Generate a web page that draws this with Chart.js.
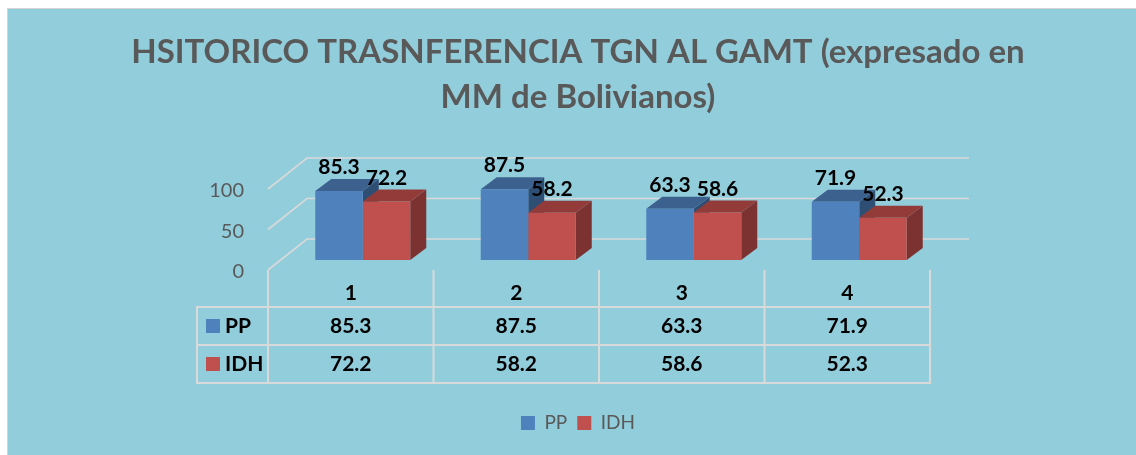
<!DOCTYPE html>
<html><head><meta charset="utf-8">
<script src="https://cdn.jsdelivr.net/npm/chart.js@4.4.1/dist/chart.umd.min.js"></script>
<style>
html,body{margin:0;padding:0;background:#fff;overflow:hidden;width:1136px;height:455px;}
#wrap{position:absolute;left:7px;top:8px;width:1129px;height:447px;border-left:1px solid #d4d4d4;border-top:1px solid #d4d4d4;background:#92CDDC;overflow:hidden;}
canvas{display:block;}
</style></head><body>
<div id="wrap"><canvas id="c" width="1140" height="446"></canvas></div>
<script>
// ---- data ----
const titleLines = ['HSITORICO TRASNFERENCIA TGN AL GAMT (expresado en', 'MM de Bolivianos)'];
const categories = ['1', '2', '3', '4'];
const seriesNames = ['PP', 'IDH'];
const ppValues = [85.3, 87.5, 63.3, 71.9];
const idhValues = [72.2, 58.2, 58.6, 52.3];
const yTickValues = [0, 50, 100];

// ---- style ----
const COLORS = {
  pp:  {front: '#4F81BD', top: '#3C618E', side: '#2F4E74'},
  idh: {front: '#C0504D', top: '#933B39', side: '#7C3230'},
  grid: '#D9D9D9', text: '#595959'
};
const FONT = 'Lato';
const DEPTH = {dx: 16, dy: -12};
const FRONT_OFF = {dx: -12, dy: 10};
const BACK_OFF = {dx: 27, dy: -21};

function poly(ctx, pts) {
  ctx.beginPath();
  ctx.moveTo(pts[0][0], pts[0][1]);
  for (let i = 1; i < pts.length; i++) ctx.lineTo(pts[i][0], pts[i][1]);
  ctx.closePath();
  ctx.fill();
}
function line(ctx, x1, y1, x2, y2) {
  ctx.beginPath(); ctx.moveTo(x1, y1); ctx.lineTo(x2, y2); ctx.stroke();
}

const threeD = {
  id: 'threeD',
  beforeDatasetsDraw(chart) {
    const {ctx, chartArea: a, scales: {y}} = chart;
    ctx.save();
    ctx.strokeStyle = COLORS.grid; ctx.lineWidth = 1.6;
    y.ticks.forEach(t => {
      const py = y.getPixelForValue(t.value);
      ctx.beginPath();
      ctx.moveTo(a.left + FRONT_OFF.dx, py + FRONT_OFF.dy);
      ctx.lineTo(a.left + BACK_OFF.dx, py + BACK_OFF.dy);
      ctx.lineTo(a.right + BACK_OFF.dx, py + BACK_OFF.dy);
      ctx.stroke();
    });
    for (let i = 0; i < categories.length; i++) {
      chart.data.datasets.forEach((ds, di) => {
        const bar = chart.getDatasetMeta(di).data[i];
        const p = bar.getProps(['x', 'y', 'base', 'width'], true);
        const L = p.x - p.width / 2, R = p.x + p.width / 2;
        ctx.fillStyle = ds.sideColor;
        poly(ctx, [[R, p.y], [R + DEPTH.dx, p.y + DEPTH.dy], [R + DEPTH.dx, p.base + DEPTH.dy], [R, p.base]]);
        ctx.fillStyle = ds.topColor;
        poly(ctx, [[L, p.y], [R, p.y], [R + DEPTH.dx, p.y + DEPTH.dy], [L + DEPTH.dx, p.y + DEPTH.dy]]);
      });
    }
    ctx.restore();
  },
  afterDatasetsDraw(chart) {
    const {ctx} = chart;
    ctx.save();
    ctx.fillStyle = '#000';
    ctx.font = 'bold 21px ' + FONT;
    ctx.textAlign = 'center';
    ctx.textBaseline = 'alphabetic';
    chart.data.datasets.forEach((ds, di) => {
      chart.getDatasetMeta(di).data.forEach((bar, i) => {
        const p = bar.getProps(['x', 'y'], true);
        ctx.fillText(ds.data[i].toFixed(1), p.x, p.y - 17);
      });
    });
    ctx.restore();
  },
  afterDraw(chart) {
    const {ctx, chartArea: a, scales: {x}} = chart;
    const n = categories.length;
    const cw = (a.right - a.left) / n;
    const fl = a.left + FRONT_OFF.dx, fb = a.bottom + FRONT_OFF.dy;
    const rows = [a.bottom + 47, a.bottom + 85, a.bottom + 123];
    const headLeft = fl - 71;
    ctx.save();
    ctx.strokeStyle = COLORS.grid; ctx.lineWidth = 2;
    for (let i = 0; i <= n; i++) { const px = fl + i * cw; line(ctx, px, fb, px, rows[2]); }
    line(ctx, headLeft, rows[0], headLeft, rows[2]);
    rows.forEach(ry => line(ctx, headLeft - 1, ry, fl + n * cw + 1, ry));
    const series = [
      {name: seriesNames[0], values: ppValues, color: COLORS.pp.front},
      {name: seriesNames[1], values: idhValues, color: COLORS.idh.front}
    ];
    ctx.font = 'bold 21px ' + FONT;
    ctx.textBaseline = 'middle';
    series.forEach((s, r) => {
      const cy = (rows[r] + rows[r + 1]) / 2;
      ctx.fillStyle = s.color;
      ctx.fillRect(headLeft + 9, cy - 7, 14, 14);
      ctx.fillStyle = '#000';
      ctx.textAlign = 'left';
      ctx.fillText(s.name, headLeft + 28, cy);
      ctx.textAlign = 'center';
      s.values.forEach((v, i) => ctx.fillText(v.toFixed(1), x.getPixelForValue(i) + FRONT_OFF.dx, cy));
    });
    ctx.restore();
  }
};

new Chart(document.getElementById('c'), {
  type: 'bar',
  plugins: [threeD],
  data: {
    labels: categories,
    datasets: [
      {label: seriesNames[0], data: ppValues, backgroundColor: COLORS.pp.front, topColor: COLORS.pp.top, sideColor: COLORS.pp.side, borderWidth: 0},
      {label: seriesNames[1], data: idhValues, backgroundColor: COLORS.idh.front, topColor: COLORS.idh.top, sideColor: COLORS.idh.side, borderWidth: 0}
    ]
  },
  options: {
    responsive: false,
    animation: false,
    events: [],
    categoryPercentage: 0.574,
    barPercentage: 1,
    layout: {padding: {left: 0, right: 0, top: 0, bottom: 12.5}},
    plugins: {
      title: {
        display: true, text: titleLines, color: COLORS.text,
        font: {family: FONT, size: 33, weight: 'bold', lineHeight: 45 / 33},
        padding: {top: 21, bottom: 59}
      },
      legend: {
        position: 'bottom',
        labels: {boxWidth: 14, boxHeight: 14, padding: 10, color: COLORS.text, font: {family: FONT, size: 19}}
      },
      tooltip: {enabled: false}
    },
    scales: {
      x: {
        grid: {display: false}, border: {display: false},
        ticks: {color: '#000', font: {family: FONT, size: 21, weight: 'bold'}, padding: 13, labelOffset: FRONT_OFF.dx},
        afterFit: s => { s.height = 143.5; }
      },
      y: {
        min: 0, max: 100,
        afterBuildTicks: s => { s.ticks = yTickValues.map(v => ({value: v})); },
        grid: {display: false, drawTicks: false}, border: {display: false},
        ticks: {color: COLORS.text, font: {family: FONT, size: 20}, padding: 36, labelOffset: 12},
        afterFit: s => { s.width = 272; }
      },
      yR: {
        position: 'right', display: true,
        grid: {display: false, drawTicks: false}, border: {display: false},
        ticks: {display: false},
        afterFit: s => { s.width = 206; }
      }
    }
  }
});
</script>
</body></html>
